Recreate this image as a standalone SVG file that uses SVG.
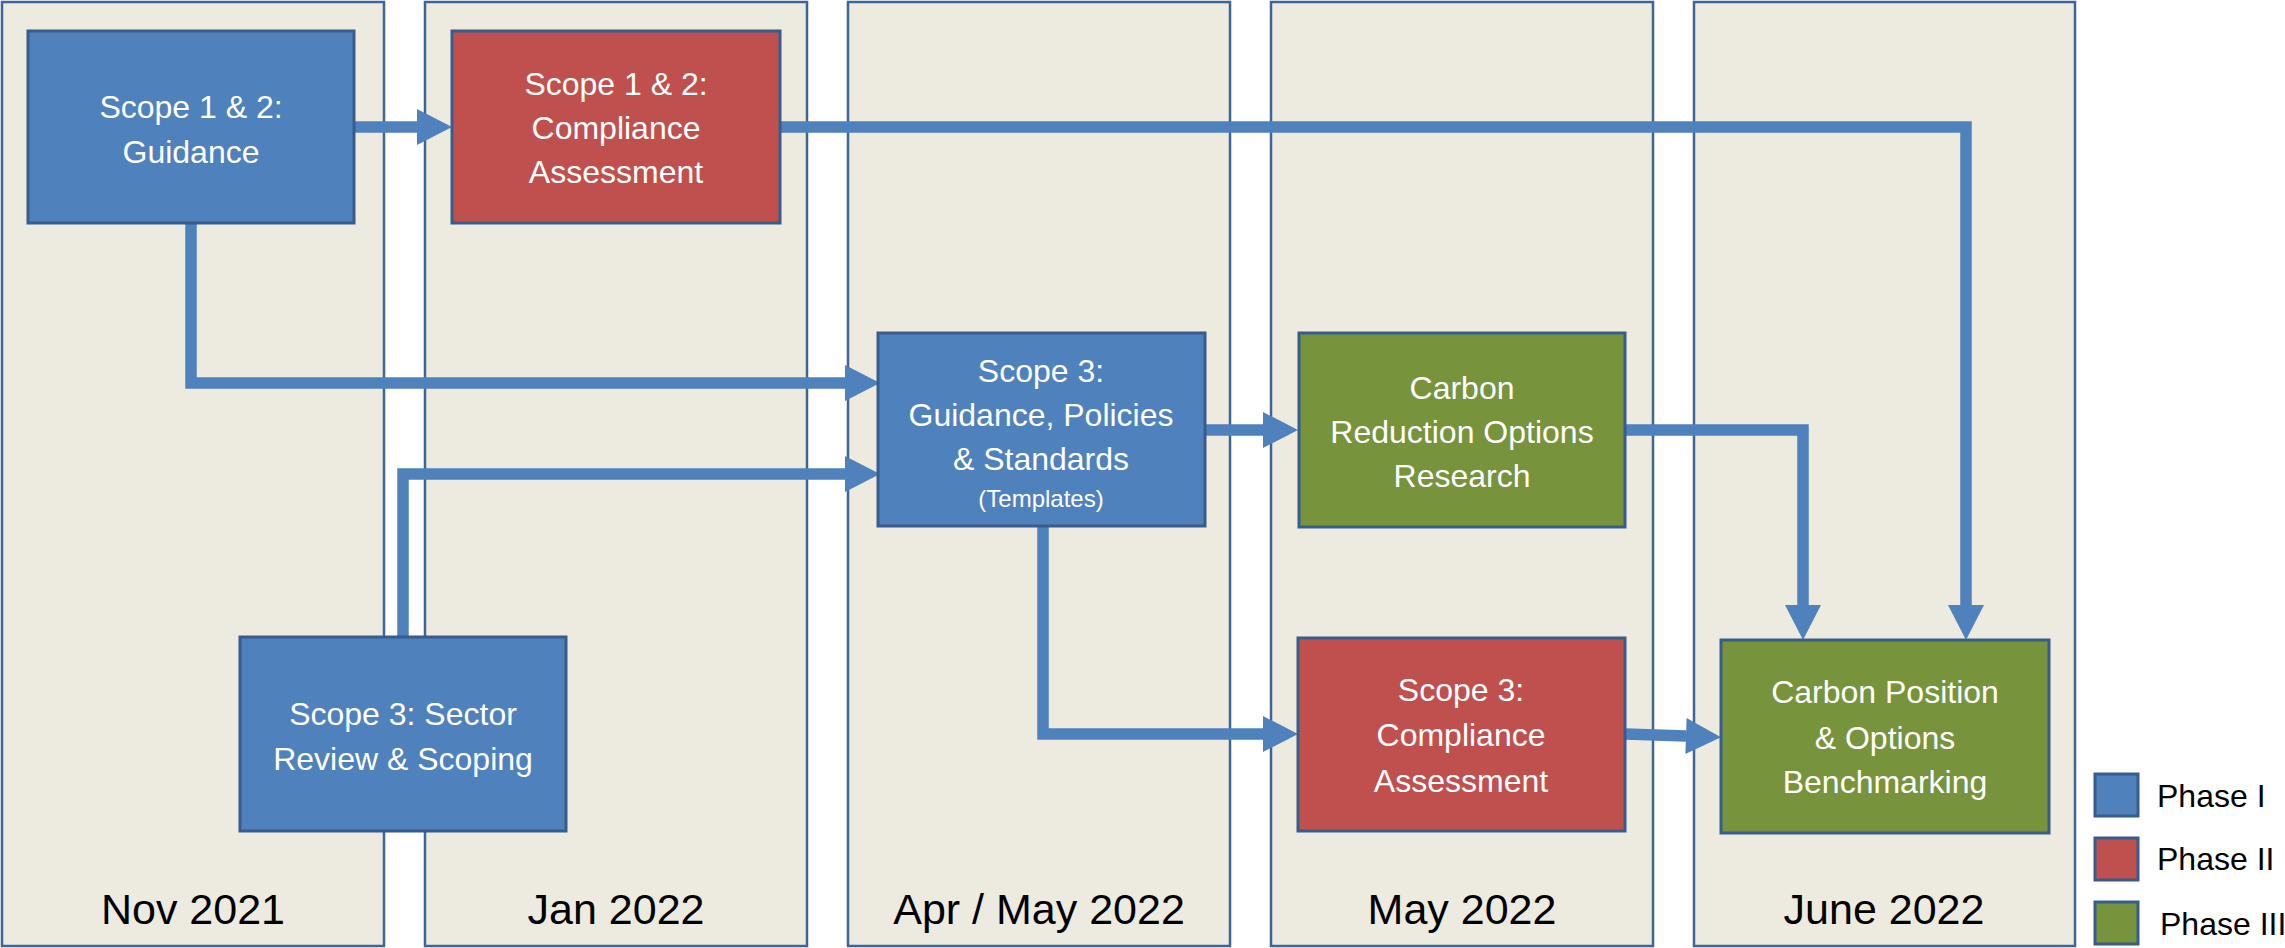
<svg xmlns="http://www.w3.org/2000/svg" width="2285" height="948" viewBox="0 0 2285 948">
<style>
.col{fill:#EDEBE0;stroke:#3F6496;stroke-width:2.5}
.b{fill:#4F81BD;stroke:#385D8A;stroke-width:3}
.r{fill:#C0504D;stroke:#385D8A;stroke-width:3}
.g{fill:#77933C;stroke:#385D8A;stroke-width:3}
.t{font-family:"Liberation Sans",Arial,sans-serif;font-size:32px;fill:#FFFFFF;text-anchor:middle}
.s{font-size:24px}
.lab{font-family:"Liberation Sans",Arial,sans-serif;font-size:43px;fill:#000000;text-anchor:middle}
.leg{font-family:"Liberation Sans",Arial,sans-serif;font-size:32px;fill:#000000}
.c{fill:none;stroke:#4F81BD;stroke-width:11.5;stroke-linejoin:miter}
</style>
<defs>
<marker id="ah" markerUnits="userSpaceOnUse" markerWidth="36" markerHeight="36" viewBox="0 0 35 36" refX="0" refY="18" orient="auto">
<path d="M0,0 L35,18 L0,36 Z" fill="#4F81BD"/>
</marker>
</defs>
<rect width="2285" height="948" fill="#FFFFFF"/>
<g id="columns">
<g id="col-nov2021"><rect class="col" x="2" y="2" width="382" height="944"/><text class="lab" x="193" y="924">Nov 2021</text></g>
<g id="col-jan2022"><rect class="col" x="425" y="2" width="382" height="944"/><text class="lab" x="616" y="924">Jan 2022</text></g>
<g id="col-aprmay2022"><rect class="col" x="848" y="2" width="382" height="944"/><text class="lab" x="1039" y="924">Apr / May 2022</text></g>
<g id="col-may2022"><rect class="col" x="1271" y="2" width="382" height="944"/><text class="lab" x="1462" y="924">May 2022</text></g>
<g id="col-june2022"><rect class="col" x="1694" y="2" width="381" height="944"/><text class="lab" x="1884" y="924">June 2022</text></g>
</g>
<g id="connectors">
<path class="c" d="M354,127 L417,127" marker-end="url(#ah)"/>
<path class="c" d="M780,127 L1966,127 L1966,605" marker-end="url(#ah)"/>
<path class="c" d="M191,223 L191,383 L845,383" marker-end="url(#ah)"/>
<path class="c" d="M403,637 L403,474 L845,474" marker-end="url(#ah)"/>
<path class="c" d="M1205,430 L1263,430" marker-end="url(#ah)"/>
<path class="c" d="M1043,526 L1043,734 L1263,734" marker-end="url(#ah)"/>
<path class="c" d="M1625,430 L1803,430 L1803,605" marker-end="url(#ah)"/>
<path class="c" d="M1625,734 L1686,736" marker-end="url(#ah)"/>
</g>
<g id="n-scope12-guidance"><rect class="b" x="28" y="31" width="326" height="192"/>
<text class="t" x="191" y="118">Scope 1 &amp; 2:</text><text class="t" x="191" y="163">Guidance</text></g>
<g id="n-scope12-compliance"><rect class="r" x="452" y="31" width="328" height="192"/>
<text class="t" x="616" y="95">Scope 1 &amp; 2:</text><text class="t" x="616" y="139">Compliance</text><text class="t" x="616" y="183">Assessment</text></g>
<g id="n-scope3-guidance"><rect class="b" x="878" y="333" width="327" height="193"/>
<text class="t" x="1041" y="382">Scope 3:</text><text class="t" x="1041" y="426">Guidance, Policies</text><text class="t" x="1041" y="470">&amp; Standards</text><text class="t s" x="1041" y="507">(Templates)</text></g>
<g id="n-carbon-reduction"><rect class="g" x="1299" y="333" width="326" height="194"/>
<text class="t" x="1462" y="399">Carbon</text><text class="t" x="1462" y="443">Reduction Options</text><text class="t" x="1462" y="487">Research</text></g>
<g id="n-scope3-sector"><rect class="b" x="240" y="637" width="326" height="194"/>
<text class="t" x="403" y="725">Scope 3: Sector</text><text class="t" x="403" y="770">Review &amp; Scoping</text></g>
<g id="n-scope3-compliance"><rect class="r" x="1298" y="638" width="327" height="193"/>
<text class="t" x="1461" y="701">Scope 3:</text><text class="t" x="1461" y="746">Compliance</text><text class="t" x="1461" y="792">Assessment</text></g>
<g id="n-carbon-position"><rect class="g" x="1721" y="640" width="328" height="193"/>
<text class="t" x="1885" y="703">Carbon Position</text><text class="t" x="1885" y="749">&amp; Options</text><text class="t" x="1885" y="793">Benchmarking</text></g>
<g id="legend">
<rect class="b" x="2095" y="774" width="43" height="42" stroke-width="2.5"/><text class="leg" x="2157" y="807">Phase I</text>
<rect class="r" x="2095" y="838" width="43" height="42" stroke-width="2.5"/><text class="leg" x="2157" y="870">Phase II</text>
<rect class="g" x="2095" y="902" width="43" height="42" stroke-width="2.5"/><text class="leg" x="2160" y="935">Phase III</text>
</g>
</svg>
